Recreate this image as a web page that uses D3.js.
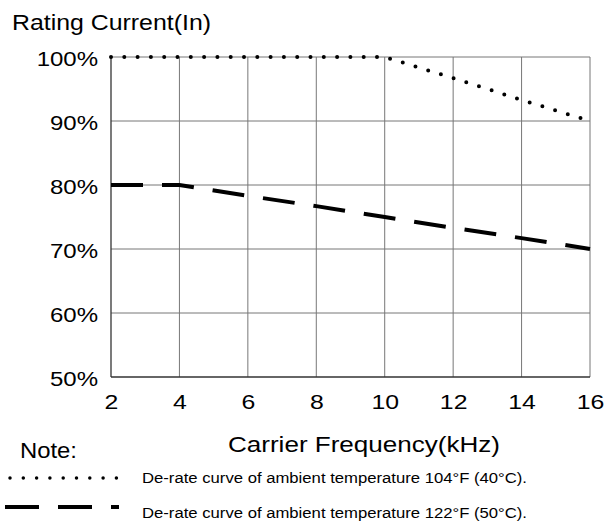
<!DOCTYPE html>
<meta charset="utf-8">
<style>
body { margin: 0; background: white; }
text { font-family: "Liberation Sans", Arial, sans-serif; fill: #000; }
</style>
<script src="https://d3js.org/d3.v7.min.js"></script>
<div id="chart"></div>
<script>

// data
var freqs = [2, 4, 6, 8, 10, 12, 14, 16];
var curve40 = [100, 100, 100, 100, 100, 96.7, 93.3, 90];
var curve50 = [80, 80, 78.3, 76.7, 75, 73.3, 71.7, 70];
var yTicks = [50, 60, 70, 80, 90, 100];
var xTicks = [2, 4, 6, 8, 10, 12, 14, 16];
var noteLabels = [
  "De-rate curve of ambient temperature 104°F (40°C).",
  "De-rate curve of ambient temperature 122°F (50°C)."
];

var W = 606, H = 523;
var margin = {top: 57, right: 16, bottom: 146, left: 111},
    width = W - margin.left - margin.right,
    height = H - margin.top - margin.bottom;

var svg = d3.select("#chart").append("svg")
    .attr("width", W)
    .attr("height", H);

var g = svg.append("g")
    .attr("transform", "translate(" + margin.left + "," + margin.top + ")");

var x = d3.scaleLinear().domain([2, 16]).range([0, width]);
var y = d3.scaleLinear().domain([50, 100]).range([height, 0]);

// the original lettering is a bit wider than Arial, so widen it
function widen(sel, k) {
  sel.each(function() {
    var w = this.getComputedTextLength();
    d3.select(this)
      .attr("textLength", w * k)
      .attr("lengthAdjust", "spacingAndGlyphs");
  });
}

// grid
g.append("g").selectAll("line")
  .data(xTicks.slice(1))
  .enter().append("line")
    .attr("x1", function(d) { return x(d); })
    .attr("x2", function(d) { return x(d); })
    .attr("y1", 0).attr("y2", height)
    .attr("stroke", "#777").attr("stroke-width", 1);

g.append("g").selectAll("line")
  .data(yTicks.slice(1))
  .enter().append("line")
    .attr("x1", 0).attr("x2", width)
    .attr("y1", function(d) { return y(d); })
    .attr("y2", function(d) { return y(d); })
    .attr("stroke", "#777").attr("stroke-width", 1);

// axes (left and bottom darker)
g.append("line").attr("x1", 0).attr("x2", 0).attr("y1", 0).attr("y2", height)
  .attr("stroke", "#333").attr("stroke-width", 1.3);
g.append("line").attr("x1", 0).attr("x2", width).attr("y1", height).attr("y2", height)
  .attr("stroke", "#333").attr("stroke-width", 1.3);

var yAxis = g.append("g")
  .call(d3.axisLeft(y).tickValues(yTicks).tickSize(0).tickPadding(13)
    .tickFormat(function(d) { return d + "%"; }));
yAxis.select(".domain").remove();
yAxis.selectAll("text").style("font-size", "20px").attr("dy", "0.4em").call(widen, 1.2);

var xAxis = g.append("g")
  .attr("transform", "translate(0," + height + ")")
  .call(d3.axisBottom(x).tickValues(xTicks).tickSize(0).tickPadding(18));
xAxis.select(".domain").remove();
xAxis.selectAll("text").style("font-size", "20px").call(widen, 1.24);

// curves
var line = d3.line()
  .x(function(d) { return x(d[0]); })
  .y(function(d) { return y(d[1]); });

g.append("path")
  .datum(d3.zip(freqs, curve40))
  .attr("d", line)
  .attr("fill", "none")
  .attr("stroke", "#000")
  .attr("stroke-width", 4)
  .attr("stroke-linecap", "round")
  .attr("stroke-dasharray", "0,13.3");

g.append("path")
  .datum(d3.zip(freqs, curve50))
  .attr("d", line)
  .attr("fill", "none")
  .attr("stroke", "#000")
  .attr("stroke-width", 4)
  .attr("stroke-dasharray", "32,19");

// titles
svg.append("text")
  .attr("x", 12).attr("y", 30)
  .style("font-size", "22px")
  .attr("textLength", 199).attr("lengthAdjust", "spacingAndGlyphs")
  .text("Rating Current(In)");

svg.append("text")
  .attr("x", 228).attr("y", 452)
  .style("font-size", "22px")
  .attr("textLength", 272).attr("lengthAdjust", "spacingAndGlyphs")
  .text("Carrier Frequency(kHz)");

// note / legend
svg.append("text")
  .attr("x", 20).attr("y", 458)
  .style("font-size", "22px")
  .attr("textLength", 57).attr("lengthAdjust", "spacingAndGlyphs")
  .text("Note:");

svg.append("line")
  .attr("x1", 10).attr("x2", 120).attr("y1", 478).attr("y2", 478)
  .attr("stroke", "#000").attr("stroke-width", 3.5)
  .attr("stroke-linecap", "round").attr("stroke-dasharray", "0,13.3");

svg.append("line")
  .attr("x1", 5).attr("x2", 119).attr("y1", 507).attr("y2", 507)
  .attr("stroke", "#000").attr("stroke-width", 4)
  .attr("stroke-dasharray", "34,19");

svg.selectAll(".note")
  .data(noteLabels)
  .enter().append("text")
    .attr("class", "note")
    .attr("x", 142)
    .attr("y", function(d, i) { return 483 + i * 35; })
    .style("font-size", "14px")
    .attr("textLength", 385).attr("lengthAdjust", "spacingAndGlyphs")
    .text(function(d) { return d; });

</script>
